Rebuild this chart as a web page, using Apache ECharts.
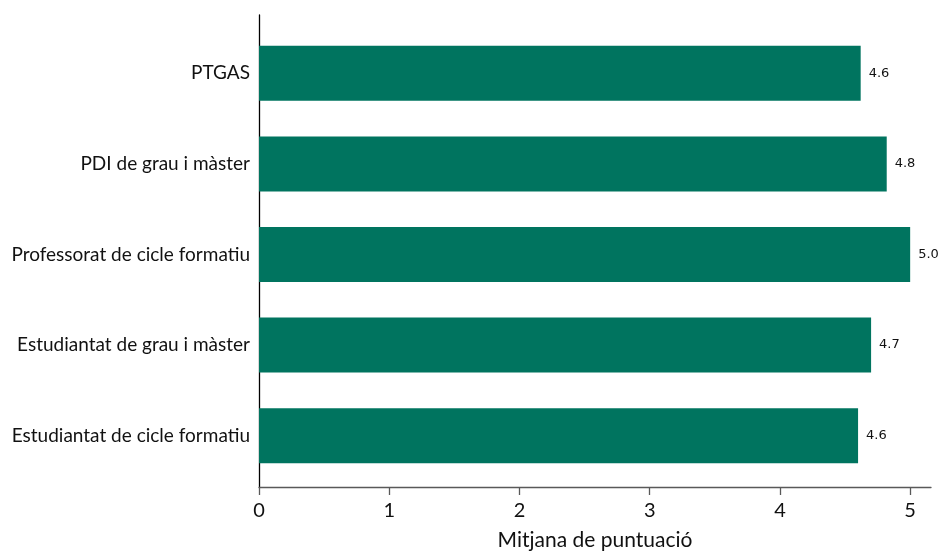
<!DOCTYPE html>
<html>
<head>
<meta charset="utf-8">
<script src="https://cdn.jsdelivr.net/npm/echarts@6/dist/echarts.min.js"></script>
<style>
  html, body { margin: 0; padding: 0; background: #fff; }
  #chart { width: 940px; height: 556px; }
</style>
</head>
<body>
<div id="chart"></div>
<script>
// Mean score per group (top to bottom as listed)
const categories = [
  'PTGAS',
  'PDI de grau i màster',
  'Professorat de cicle formatiu',
  'Estudiantat de grau i màster',
  'Estudiantat de cicle formatiu'
];
const scores = [4.62, 4.82, 5.0, 4.70, 4.60];
const tickValues = [0, 1, 2, 3, 4, 5];
const axisTitle = 'Mitjana de puntuació';

const barColor = '#00745f';
const labelFont = 'Lato, "Noto Sans", sans-serif';

const chart = echarts.init(document.getElementById('chart'), null, { renderer: 'canvas' });

chart.setOption({
  animation: false,
  backgroundColor: '#ffffff',
  grid: [
    // frame grid: carries the value axis and the vertical axis line
    { left: 259, right: 9, top: 15, bottom: 62, containLabel: false },
    // plot grid: carries the category bands
    { left: 259, right: 9, top: 28, bottom: 75, containLabel: false }
  ],
  xAxis: [
    {
      type: 'value', gridIndex: 0, min: 0, max: 5.16,
      axisLine: { show: true, lineStyle: { color: '#595959', width: 1.3 } },
      axisTick: { show: true, length: 8, customValues: tickValues, lineStyle: { color: '#595959', width: 1.3 } },
      axisLabel: {
        customValues: tickValues, margin: 14,
        color: '#111', fontSize: 20, fontFamily: labelFont
      },
      splitLine: { show: false },
      name: axisTitle, nameLocation: 'middle', nameGap: 43,
      nameTextStyle: { color: '#111', fontSize: 21, fontFamily: labelFont }
    },
    {
      type: 'value', gridIndex: 1, min: 0, max: 5.16, show: false
    }
  ],
  yAxis: [
    {
      type: 'value', gridIndex: 0, min: 0, max: 1,
      axisLine: { show: true, lineStyle: { color: '#000', width: 1.3 } },
      axisTick: { show: false }, axisLabel: { show: false }, splitLine: { show: false }
    },
    {
      type: 'category', gridIndex: 1, inverse: true, data: categories,
      axisLine: { show: false }, axisTick: { show: false }, splitLine: { show: false },
      axisLabel: { margin: 9, color: '#111', fontSize: 19, fontFamily: labelFont }
    }
  ],
  series: [
    {
      type: 'bar', xAxisIndex: 1, yAxisIndex: 1,
      data: scores, barWidth: 55,
      itemStyle: { color: barColor },
      label: {
        show: true, position: 'right', distance: 8,
        color: '#111', fontSize: 13, fontFamily: '"DejaVu Sans", sans-serif',
        formatter: p => p.value.toFixed(1)
      }
    }
  ]
});
</script>
</body>
</html>
